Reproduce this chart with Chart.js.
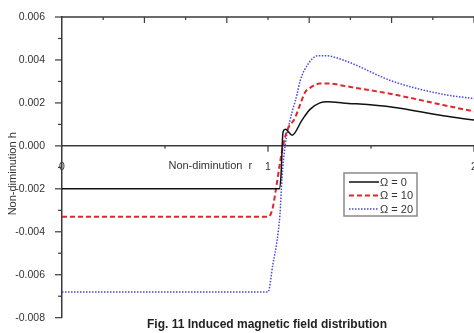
<!DOCTYPE html>
<html>
<head>
<meta charset="utf-8">
<script src="https://cdn.jsdelivr.net/npm/chart.js@4/dist/chart.umd.min.js"></script>
<style>
html,body{margin:0;padding:0;background:#fff;overflow:hidden;}
#wrap{width:474px;height:333px;position:relative;}
</style>
</head>
<body>
<div id="wrap"><canvas id="c" width="474" height="333"></canvas></div>
<script>
// ---- data ----
const seriesLabels = ['Ω = 0', 'Ω = 10', 'Ω = 20'];
const rOmega0  = [0, 1.0, 1.055, 1.063, 1.073, 1.085, 1.117, 1.165, 1.204, 1.252, 1.29, 1.364, 1.607, 1.85, 2.0];
const hOmega0  = [-0.002, -0.002, -0.002, -0.0014, 0.00065, 0.00077, 0.0005, 0.0012, 0.0017, 0.002, 0.00205, 0.002, 0.0018, 0.0014, 0.0012];
const rOmega10 = [0, 1.0, 1.02, 1.039, 1.058, 1.073, 1.092, 1.131, 1.155, 1.18, 1.204, 1.252, 1.30, 1.364, 1.607, 1.85, 2.0];
const hOmega10 = [-0.0033, -0.0033, -0.003, -0.002, -0.0008, 0.0, 0.0007, 0.0013, 0.0019, 0.0025, 0.0027, 0.0029, 0.0029, 0.0028, 0.0024, 0.0019, 0.0016];
const rOmega20 = [0, 1.0, 1.024, 1.044, 1.058, 1.068, 1.083, 1.107, 1.141, 1.155, 1.194, 1.243, 1.277, 1.364, 1.607, 1.85, 2.0];
const hOmega20 = [-0.0068, -0.0068, -0.0055, -0.0044, -0.0032, -0.0015, 0.0, 0.0012, 0.0024, 0.003, 0.0038, 0.0042, 0.0042, 0.004, 0.003, 0.0024, 0.0022];
const yTickValues = [-0.008, -0.006, -0.004, -0.002, 0.000, 0.002, 0.004, 0.006];
const xTickLabels = ['0', '1', '2'];
const xTitle = 'Non-diminution  r';
const yTitle = 'Non-diminution h';
const caption = 'Fig. 11 Induced magnetic field distribution';

const FONT = '"Liberation Sans", Arial, sans-serif';
const AXC = '#3a3a3a';
const pts = (xs, ys) => xs.map((x, i) => ({x: x, y: ys[i]}));

const styles = [
  {color: '#111111', width: 1.5, dash: []},
  {color: '#e0262a', width: 2, dash: [5, 3]},
  {color: '#4646e0', width: 1.5, dash: [1.5, 1.5]}
];
const series = [pts(rOmega0, hOmega0), pts(rOmega10, hOmega10), pts(rOmega20, hOmega20)];

const decor = {
  id: 'decor',
  beforeDatasetsDraw(chart) {
    const {ctx, chartArea: a, scales: {x, y}} = chart;
    ctx.save();
    ctx.strokeStyle = AXC;
    ctx.lineWidth = 1.5;
    // top frame line
    ctx.beginPath(); ctx.moveTo(a.left, a.top); ctx.lineTo(a.right, a.top); ctx.stroke();
    ctx.lineWidth = 1.2;
    // top ticks (inward): major every 0.4, minor every 0.2
    for (let k = 1; k <= 10; k++) {
      const v = k * 0.2, px = x.getPixelForValue(v);
      const len = (k % 2 === 0) ? 6 : 3;
      ctx.beginPath(); ctx.moveTo(px, a.top); ctx.lineTo(px, a.top + len); ctx.stroke();
    }
    // left ticks (outward)
    for (let k = -8; k <= 6; k++) {
      const py = y.getPixelForValue(k * 0.001);
      const len = (k % 2 === 0) ? 7 : 4;
      ctx.beginPath(); ctx.moveTo(a.left - len, py); ctx.lineTo(a.left, py); ctx.stroke();
    }
    // bottom ticks on the zero axis
    const y0 = y.getPixelForValue(0);
    for (let k = 1; k <= 4; k++) {
      const px = x.getPixelForValue(k * 0.5);
      const len = (k % 2 === 0) ? 6 : 3;
      ctx.beginPath(); ctx.moveTo(px, y0); ctx.lineTo(px, y0 + len); ctx.stroke();
    }
    ctx.restore();
  },
  afterDraw(chart) {
    const {ctx, chartArea: a, scales: {x, y}} = chart;
    ctx.save();
    ctx.fillStyle = '#333';
    // x title
    ctx.font = '11px ' + FONT;
    ctx.textAlign = 'center'; ctx.textBaseline = 'middle';
    ctx.fillText(xTitle, x.getPixelForValue(0.72), y.getPixelForValue(-0.00095));
    // y title
    ctx.save();
    ctx.translate(13, y.getPixelForValue(-0.0013));
    ctx.rotate(-Math.PI / 2);
    ctx.fillText(yTitle, 0, 0);
    ctx.restore();
    // caption
    ctx.fillStyle = '#222';
    ctx.font = 'bold 12px ' + FONT;
    ctx.fillText(caption, 267, 325);
    // legend
    const bx = 344, by = 173, bw = 73, bh = 43;
    ctx.strokeStyle = '#8a8a8a'; ctx.lineWidth = 1.5;
    ctx.fillStyle = '#fff';
    ctx.fillRect(bx, by, bw, bh);
    ctx.strokeRect(bx, by, bw, bh);
    ctx.font = '11px ' + FONT;
    ctx.textAlign = 'left';
    chart.data.datasets.forEach((ds, i) => {
      const ly = by + 9 + i * 13.5;
      ctx.strokeStyle = ds.borderColor; ctx.lineWidth = ds.borderWidth;
      ctx.setLineDash(ds.borderDash || []);
      ctx.beginPath(); ctx.moveTo(349, ly); ctx.lineTo(379, ly); ctx.stroke();
      ctx.setLineDash([]);
      ctx.fillStyle = '#333';
      ctx.fillText(ds.label, 380, ly + 0.5);
    });
    ctx.restore();
  }
};

new Chart(document.getElementById('c'), {
  type: 'line',
  data: {
    datasets: series.map((d, i) => ({
      label: seriesLabels[i],
      data: d,
      borderColor: styles[i].color,
      borderWidth: styles[i].width,
      borderDash: styles[i].dash,
      pointRadius: 0,
      fill: false,
      cubicInterpolationMode: 'monotone'
    }))
  },
  options: {
    responsive: false,
    animation: false,
    layout: {padding: {top: 17, bottom: 8, left: 0, right: 0}},
    plugins: {legend: {display: false}, tooltip: {enabled: false}},
    scales: {
      x: {
        type: 'linear',
        position: {y: 0},
        min: 0, max: 2,
        afterFit: (s) => { s.height = 0; s.paddingLeft = 0; s.paddingRight = 0; },
        grid: {display: false},
        border: {display: true, color: AXC, width: 1.5},
        ticks: {
          stepSize: 0.5,
          autoSkip: false,
          maxRotation: 0,
          padding: 7,
          color: '#333',
          font: {size: 10.5, family: FONT},
          callback: (v) => Number.isInteger(v) ? xTickLabels[v] : ''
        }
      },
      y: {
        type: 'linear',
        position: 'left',
        min: -0.008, max: 0.006,
        afterFit: (s) => { s.width = 62; },
        afterBuildTicks: (s) => { s.ticks = yTickValues.map(v => ({value: v})); },
        grid: {display: false},
        border: {display: true, color: AXC, width: 1.5},
        ticks: {
          padding: 9,
          color: '#333',
          font: {size: 10.5, family: FONT},
          callback: (v) => Number(v).toFixed(3)
        }
      }
    }
  },
  plugins: [decor]
});
</script>
</body>
</html>
